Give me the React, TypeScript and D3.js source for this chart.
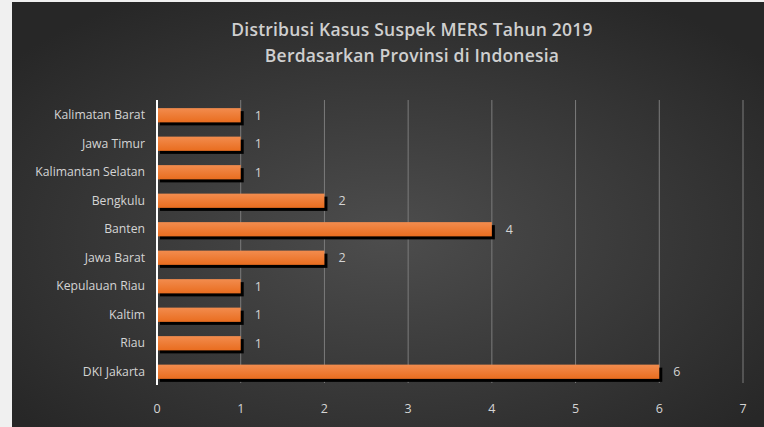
import * as d3 from "d3";
import React, { useRef, useEffect } from "react";

// chart data, top to bottom as shown
const provinces = [
  "Kalimatan Barat",
  "Jawa Timur",
  "Kalimantan Selatan",
  "Bengkulu",
  "Banten",
  "Jawa Barat",
  "Kepulauan Riau",
  "Kaltim",
  "Riau",
  "DKI Jakarta",
];
const cases = [1, 1, 1, 2, 4, 2, 1, 1, 1, 6];
const xTicks = [0, 1, 2, 3, 4, 5, 6, 7];
const titleLines = [
  "Distribusi Kasus Suspek MERS Tahun 2019",
  "Berdasarkan Provinsi di Indonesia",
];

function App() {
  const svgRef = useRef<SVGSVGElement | null>(null);

  useEffect(() => {
    const svg = d3.select(svgRef.current);
    svg.selectAll("*").remove();

    const width = 764;
    const height = 427;
    const font = "'Open Sans', 'Noto Sans', sans-serif";

    const defs = svg.append("defs");
    // dark vignette background
    const bg = defs
      .append("radialGradient")
      .attr("id", "bgGrad")
      .attr("cx", "50%")
      .attr("cy", "55%")
      .attr("r", "65%");
    bg.append("stop").attr("offset", "0%").attr("stop-color", "#4d4d4d");
    bg.append("stop").attr("offset", "100%").attr("stop-color", "#272727");

    // orange bar gradient
    const barGrad = defs
      .append("linearGradient")
      .attr("id", "barGrad")
      .attr("x1", 0)
      .attr("y1", 0)
      .attr("x2", 0)
      .attr("y2", 1);
    barGrad.append("stop").attr("offset", "0%").attr("stop-color", "#f28c4e");
    barGrad.append("stop").attr("offset", "100%").attr("stop-color", "#e96d1f");

    // page area outside chart
    svg.append("rect").attr("width", width).attr("height", height).attr("fill", "#f0f0f0");
    svg
      .append("rect")
      .attr("x", 12)
      .attr("y", 2)
      .attr("width", width - 12)
      .attr("height", height - 2)
      .attr("fill", "url(#bgGrad)");

    // title
    svg
      .append("g")
      .selectAll("text")
      .data(titleLines)
      .enter()
      .append("text")
      .attr("x", 412)
      .attr("y", (d, i) => 36 + i * 26)
      .attr("text-anchor", "middle")
      .attr("font-family", font)
      .attr("font-size", 17.5)
      .attr("font-weight", 600)
      .attr("letter-spacing", 0.2)
      .attr("fill", "#cfcfcf")
      .text((d) => d);

    const x = d3.scaleLinear().domain([0, 7]).range([157, 743]);
    const y = d3
      .scaleBand()
      .domain(provinces)
      .range([101, 386])
      .paddingInner(0.5)
      .paddingOuter(0.25);

    // vertical gridlines
    svg
      .append("g")
      .selectAll("line")
      .data(xTicks.slice(1))
      .enter()
      .append("line")
      .attr("x1", (d) => x(d))
      .attr("x2", (d) => x(d))
      .attr("y1", 100)
      .attr("y2", 383)
      .attr("stroke", "#7c7c7c")
      .attr("stroke-width", 1);

    // x tick labels
    svg
      .append("g")
      .selectAll("text")
      .data(xTicks)
      .enter()
      .append("text")
      .attr("x", (d) => x(d))
      .attr("y", 413)
      .attr("text-anchor", "middle")
      .attr("font-family", font)
      .attr("font-size", 12.5)
      .attr("fill", "#d4d4d4")
      .text((d) => d);

    const rows = svg
      .append("g")
      .selectAll("g")
      .data(provinces)
      .enter()
      .append("g");

    // shadows
    rows
      .append("rect")
      .attr("x", x(0) + 3)
      .attr("y", (d) => (y(d) as number) + 3)
      .attr("width", (d, i) => x(cases[i]) - x(0))
      .attr("height", y.bandwidth())
      .attr("fill", "#000");

    // bars
    rows
      .append("rect")
      .attr("x", x(0))
      .attr("y", (d) => y(d) as number)
      .attr("width", (d, i) => x(cases[i]) - x(0))
      .attr("height", y.bandwidth())
      .attr("fill", "url(#barGrad)");

    // value labels
    rows
      .append("text")
      .attr("x", (d, i) => x(cases[i]) + 14)
      .attr("y", (d) => (y(d) as number) + y.bandwidth() / 2 + 4.5)
      .attr("font-family", font)
      .attr("font-size", 12.5)
      .attr("fill", "#d4d4d4")
      .text((d, i) => cases[i]);

    // category labels
    rows
      .append("text")
      .attr("x", 145)
      .attr("y", (d) => (y(d) as number) + y.bandwidth() / 2 + 4)
      .attr("text-anchor", "end")
      .attr("font-family", font)
      .attr("font-size", 12.2)
      .attr("fill", "#d4d4d4")
      .text((d) => d);

    // white axis line at zero
    svg
      .append("line")
      .attr("x1", x(0))
      .attr("x2", x(0))
      .attr("y1", 100)
      .attr("y2", 385)
      .attr("stroke", "#ffffff")
      .attr("stroke-width", 2);
  }, []);

  return (
    <svg
      ref={svgRef}
      width={764}
      height={427}
      style={{ position: "absolute", left: 0, top: 0 }}
    />
  );
}

export default App;
